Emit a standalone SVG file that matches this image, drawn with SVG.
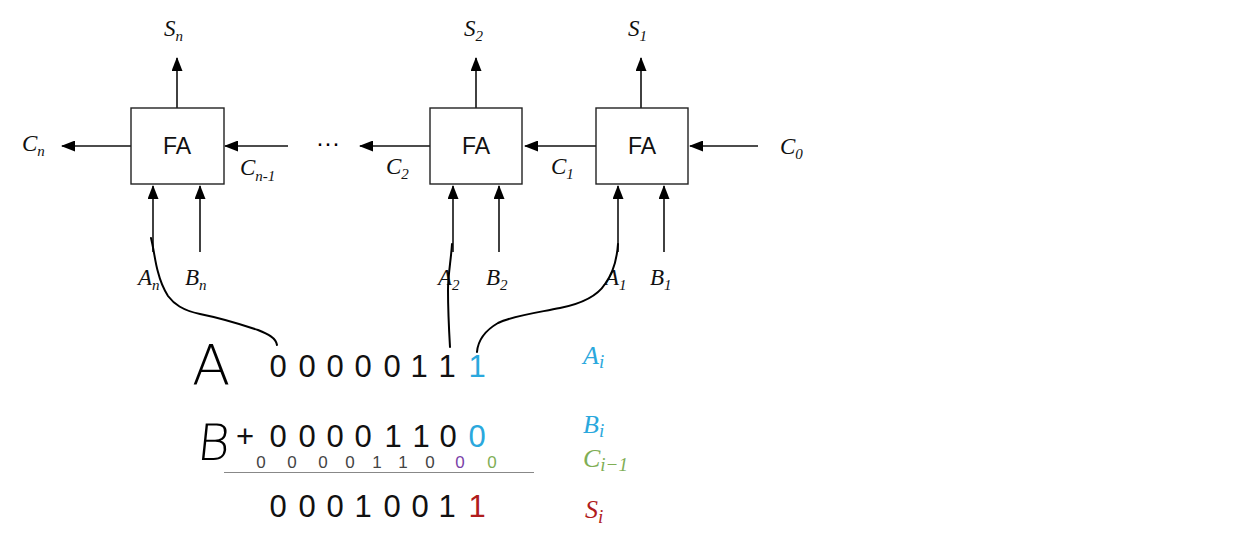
<svg xmlns="http://www.w3.org/2000/svg" width="1259" height="541" viewBox="0 0 1259 541">
<defs>
<marker id="ah" markerWidth="14" markerHeight="11" refX="13" refY="5.5" orient="auto" markerUnits="userSpaceOnUse">
<path d="M0,0 L14,5.5 L0,11 Z" fill="#000"/>
</marker>
<style>
.box{fill:#fff;stroke:#222;stroke-width:1.4}
.fa{font-family:"Liberation Sans",Arial,sans-serif;font-size:23px;fill:#111;text-anchor:middle}
.w{stroke:#111;stroke-width:1.6;fill:none}
.lab{font-family:"Liberation Serif","Times New Roman",serif;font-style:italic;font-size:23px;fill:#111}
.sub{font-size:15px}
.hand{stroke:#000;stroke-width:2;fill:none;stroke-linecap:round}
.dg{font-family:"Liberation Sans",Arial,sans-serif;font-size:31px;fill:#111;text-anchor:middle}
.sm{font-family:"Liberation Sans",Arial,sans-serif;font-size:17px;fill:#444;text-anchor:middle}
.mi{font-family:"Liberation Serif","Times New Roman",serif;font-style:italic;font-size:26px}
.hw{font-family:"DejaVu Sans",sans-serif;font-weight:200;fill:#000}
</style>
</defs>
<rect width="1259" height="541" fill="#fff"/>
<g id="connectors">
<line class="w" x1="177" y1="108" x2="177" y2="58" marker-end="url(#ah)"/>
<line class="w" x1="476" y1="108" x2="476" y2="58" marker-end="url(#ah)"/>
<line class="w" x1="641" y1="108" x2="641" y2="58" marker-end="url(#ah)"/>
<line class="w" x1="131" y1="146" x2="62" y2="146" marker-end="url(#ah)"/>
<line class="w" x1="288" y1="146" x2="225" y2="146" marker-end="url(#ah)"/>
<line class="w" x1="430" y1="146" x2="360" y2="146" marker-end="url(#ah)"/>
<line class="w" x1="596" y1="146" x2="525" y2="146" marker-end="url(#ah)"/>
<line class="w" x1="758" y1="146" x2="690" y2="146" marker-end="url(#ah)"/>
<line class="w" x1="153" y1="252" x2="153" y2="186" marker-end="url(#ah)"/>
<line class="w" x1="200" y1="252" x2="200" y2="186" marker-end="url(#ah)"/>
<line class="w" x1="453" y1="252" x2="453" y2="186" marker-end="url(#ah)"/>
<line class="w" x1="499" y1="252" x2="499" y2="186" marker-end="url(#ah)"/>
<line class="w" x1="618" y1="252" x2="618" y2="186" marker-end="url(#ah)"/>
<line class="w" x1="664" y1="252" x2="664" y2="186" marker-end="url(#ah)"/>
</g>
<g id="fa-n"><rect class="box" x="131" y="108" width="93" height="76"/><text class="fa" x="177" y="154">FA</text></g>
<g id="fa-2"><rect class="box" x="430" y="108" width="92" height="76"/><text class="fa" x="476" y="154">FA</text></g>
<g id="fa-1"><rect class="box" x="596" y="108" width="92" height="76"/><text class="fa" x="642" y="154">FA</text></g>
<g id="labels">
<text class="lab" x="164" y="36">S<tspan class="sub" dy="5">n</tspan></text>
<text class="lab" x="464" y="36">S<tspan class="sub" dy="5">2</tspan></text>
<text class="lab" x="628" y="36">S<tspan class="sub" dy="5">1</tspan></text>
<text class="lab" x="22" y="151">C<tspan class="sub" dy="5">n</tspan></text>
<text class="lab" x="240" y="175">C<tspan class="sub" dy="6">n-1</tspan></text>
<text class="lab" x="386" y="174">C<tspan class="sub" dy="5">2</tspan></text>
<text class="lab" x="551" y="174">C<tspan class="sub" dy="5">1</tspan></text>
<text class="lab" x="780" y="154">C<tspan class="sub" dy="5">0</tspan></text>
<text x="328" y="151" style="font-family:'Liberation Sans',sans-serif;font-size:24px;text-anchor:middle">···</text>
<text class="lab" x="138" y="285">A<tspan class="sub" dy="5">n</tspan></text>
<text class="lab" x="185" y="285">B<tspan class="sub" dy="5">n</tspan></text>
<text class="lab" x="438" y="285">A<tspan class="sub" dy="5">2</tspan></text>
<text class="lab" x="486" y="285">B<tspan class="sub" dy="5">2</tspan></text>
<text class="lab" x="605" y="285">A<tspan class="sub" dy="5">1</tspan></text>
<text class="lab" x="650" y="285">B<tspan class="sub" dy="5">1</tspan></text>
</g>
<g id="handwriting">
<path class="hand" d="M151,238 C154,250 155,262 158,272 C160,280 163,288 168,296 C174,304 182,310 200,314 C220,318 240,324 258,330 C268,334 276,338 277,345"/>
<path class="hand" d="M452,244 C451,260 448,275 448,290 C448,310 449,330 450,347"/>
<path class="hand" d="M618,244 C617,258 614,272 605,284 C598,295 585,303 560,308 C535,313 512,316 498,323 C486,330 478,340 477,352"/>
<text class="hw" x="192" y="384" font-size="56">A</text>
<text class="hw" x="196" y="460" font-size="50" transform="skewX(-6) translate(48,0)">B</text>
</g>
<g id="sum">
<text class="dg" y="377"><tspan x="278">0</tspan><tspan x="307">0</tspan><tspan x="335">0</tspan><tspan x="363">0</tspan><tspan x="392">0</tspan><tspan x="419">1</tspan><tspan x="447">1</tspan><tspan x="477" fill="#2aa8dd">1</tspan></text>
<text class="dg" y="447"><tspan x="245">+</tspan><tspan x="278">0</tspan><tspan x="307">0</tspan><tspan x="335">0</tspan><tspan x="363">0</tspan><tspan x="393">1</tspan><tspan x="421">1</tspan><tspan x="448">0</tspan><tspan x="477" fill="#2aa8dd">0</tspan></text>
<text class="sm" y="468"><tspan x="261">0</tspan><tspan x="292">0</tspan><tspan x="323">0</tspan><tspan x="350">0</tspan><tspan x="377">1</tspan><tspan x="403">1</tspan><tspan x="430">0</tspan><tspan x="460" fill="#7a3fa8">0</tspan><tspan x="492" fill="#7fae55">0</tspan></text>
<line x1="224" y1="472.5" x2="534" y2="472.5" stroke="#888" stroke-width="1"/>
<text class="dg" y="517"><tspan x="278">0</tspan><tspan x="307">0</tspan><tspan x="335">0</tspan><tspan x="363">1</tspan><tspan x="392">0</tspan><tspan x="420">0</tspan><tspan x="447">1</tspan><tspan x="477" fill="#b01c1c">1</tspan></text>
<text class="mi" x="583" y="364" fill="#2aa8dd">A<tspan dy="4" font-size="19">i</tspan></text>
<text class="mi" x="583" y="433" fill="#2aa8dd">B<tspan dy="4" font-size="19">i</tspan></text>
<text class="mi" x="583" y="467" fill="#7fae55">C<tspan dy="4" font-size="19">i−1</tspan></text>
<text class="mi" x="585" y="518" fill="#b01c1c">S<tspan dy="5" font-size="19">i</tspan></text>
</g>
</svg>
